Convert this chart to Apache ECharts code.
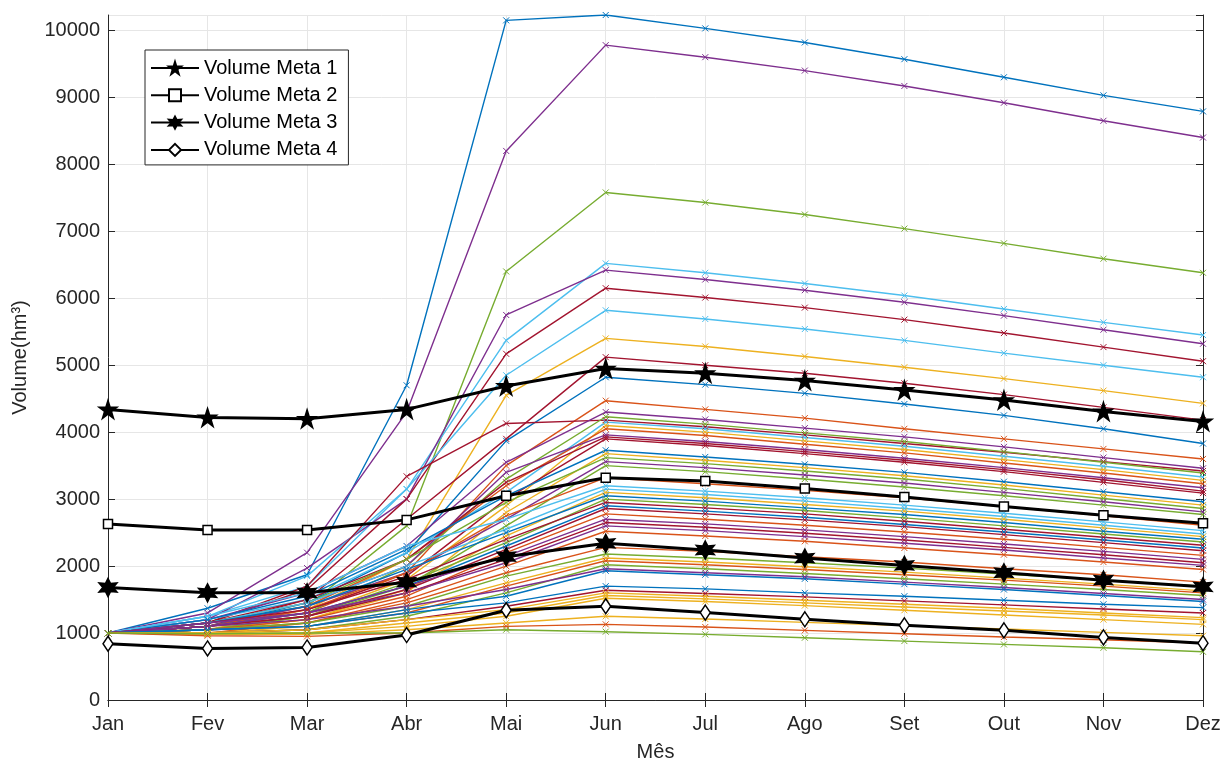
<!DOCTYPE html>
<html>
<head>
<meta charset="utf-8">
<script src="https://cdn.jsdelivr.net/npm/echarts@6/dist/echarts.min.js"></script>
<style>
html,body{margin:0;padding:0;background:#fff;}
#chart{width:1225px;height:762px;}
</style>
</head>
<body>
<div id="chart"></div>
<script>
const months = ['Jan','Fev','Mar','Abr','Mai','Jun','Jul','Ago','Set','Out','Nov','Dez'];
const yTicks = [0,1000,2000,3000,4000,5000,6000,7000,8000,9000,10000];

// Meta lines
const meta1 = [4340,4220,4200,4340,4690,4950,4880,4770,4630,4480,4310,4160];
const meta2 = [2630,2540,2540,2690,3050,3320,3270,3160,3030,2890,2760,2640];
const meta3 = [1680,1600,1600,1760,2140,2340,2240,2120,2010,1900,1790,1690];
const meta4 = [840,770,785,970,1340,1400,1305,1205,1115,1040,935,848];

// Simulated scenario colours (MATLAB default order)
const scenColors = ['B','P','G','C','P','R','C','Y','R','B','O','R','P','G','C','Y','O','P','R','R','B','Y','G','P','G','O','C','C','Y','B','G','R','B','R','O','P','R','P','O','O','G','Y','O','G','P','B','B','R','Y','Y','Y','Y','O','G'];

// Simulated scenario values
const s01 = [1000,1370,1870,4700,10150,10230,10030,9820,9570,9300,9030,8790];
const s02 = [1000,1300,2200,4300,8200,9780,9600,9400,9170,8920,8650,8400];
const s03 = [1000,1150,1400,2600,6400,7580,7430,7250,7040,6820,6590,6380];
const s04 = [1000,1250,1700,3150,5370,6520,6380,6220,6040,5840,5640,5450];
const s05 = [1000,1200,1970,3000,5750,6420,6280,6120,5940,5740,5530,5320];
const s06 = [1000,1150,1650,3000,5170,6150,6010,5860,5680,5480,5270,5060];
const s07 = [1000,1250,1850,3150,4850,5820,5690,5540,5370,5180,5000,4820];
const s08 = [1000,1050,1350,2100,4550,5400,5280,5130,4970,4800,4620,4430];
const s09 = [1000,1100,1500,2700,3900,5120,5000,4880,4730,4560,4370,4180];
const s10 = [1000,1100,1450,2200,3870,4820,4710,4580,4420,4250,4050,3830];
const s11 = [1000,1100,1300,1900,3500,4470,4340,4210,4050,3900,3750,3600];
const s12 = [1000,1150,1700,3340,4130,4180,4080,3960,3830,3700,3560,3420];
const s13 = [1000,1200,1600,2300,3550,4300,4190,4060,3930,3780,3620,3460];
const s14 = [1000,1100,1300,2000,3300,4230,4120,3990,3860,3710,3550,3390];
const s15 = [1000,1200,1500,2200,3100,4150,4050,3920,3790,3640,3490,3330];
const s16 = [1000,1050,1250,1800,2900,4100,4000,3870,3740,3590,3440,3280];
const s17 = [1000,1100,1400,2100,3200,4050,3950,3820,3690,3540,3390,3230];
const s18 = [1000,1150,1450,2000,3400,3960,3860,3740,3610,3470,3320,3170];
const s19 = [1000,1150,1500,2100,3250,3930,3830,3710,3580,3440,3290,3120];
const s20 = [1000,1100,1350,1850,3000,3900,3800,3680,3550,3410,3250,3090];
const s21 = [1000,1200,1550,2250,3050,3730,3630,3520,3400,3260,3110,2960];
const s22 = [1000,1050,1200,1600,2800,3680,3580,3470,3350,3210,3060,2910];
const s23 = [1000,1150,1450,2100,2950,3620,3530,3420,3300,3160,3010,2860];
const s24 = [1000,1100,1400,1900,2700,3560,3470,3360,3240,3100,2960,2810];
const s25 = [1000,1050,1250,1700,2600,3500,3410,3300,3180,3050,2910,2770];
const s26 = [1000,1100,1350,1900,2750,3320,3230,3130,3020,2890,2750,2610];
const s27 = [1000,1250,1600,2300,2700,3200,3120,3020,2910,2790,2660,2530];
const s28 = [1000,1150,1450,2000,2550,3150,3070,2970,2860,2740,2610,2480];
const s29 = [1000,1050,1200,1650,2450,3100,3020,2920,2820,2700,2570,2440];
const s30 = [1000,1150,1400,1950,2500,3050,2970,2870,2770,2650,2520,2400];
const s31 = [1000,1050,1250,1750,2350,3000,2920,2830,2720,2600,2480,2360];
const s32 = [1000,1150,1350,1800,2400,2950,2870,2780,2670,2550,2430,2310];
const s33 = [1000,1100,1300,1700,2300,2900,2820,2730,2620,2510,2390,2270];
const s34 = [1000,1100,1250,1650,2250,2860,2780,2690,2590,2470,2350,2230];
const s35 = [1000,1050,1200,1550,2200,2780,2700,2610,2510,2400,2280,2160];
const s36 = [1000,1150,1300,1700,2150,2700,2630,2540,2440,2330,2220,2100];
const s37 = [1000,1100,1250,1600,2100,2650,2580,2490,2390,2280,2170,2050];
const s38 = [1000,1100,1300,1600,2050,2600,2530,2440,2340,2240,2120,2010];
const s39 = [1000,1000,1150,1500,2000,2520,2450,2370,2270,2170,2060,1950];
const s40 = [1000,1050,1150,1450,1900,2280,2220,2140,2060,1960,1870,1760];
const s41 = [1000,1050,1150,1400,1850,2180,2120,2050,1970,1880,1790,1700];
const s42 = [1000,1000,1100,1350,1750,2120,2060,1990,1910,1820,1730,1630];
const s43 = [1000,1050,1100,1300,1700,2080,2020,1950,1870,1790,1700,1600];
const s44 = [1000,1000,1050,1250,1600,2020,1960,1890,1810,1730,1650,1560];
const s45 = [1000,1100,1200,1400,1650,1960,1900,1840,1760,1680,1590,1500];
const s46 = [1000,1050,1100,1350,1550,1930,1870,1810,1730,1650,1560,1470];
const s47 = [1000,1050,1100,1300,1450,1700,1660,1600,1550,1490,1430,1380];
const s48 = [1000,1000,1050,1200,1400,1640,1590,1540,1480,1420,1360,1300];
const s49 = [1000,1000,1050,1200,1350,1600,1550,1490,1430,1370,1300,1230];
const s50 = [1000,1000,1000,1150,1300,1560,1510,1450,1390,1330,1270,1200];
const s51 = [1000,980,1000,1100,1250,1520,1470,1410,1340,1270,1200,1130];
const s52 = [1000,980,980,1050,1150,1250,1210,1160,1110,1060,1010,960];
const s53 = [1000,960,950,1000,1100,1130,1090,1040,990,940,900,850];
const s54 = [1000,990,1000,1000,1050,1020,980,930,880,830,780,720];

const scenarios = [s01,s02,s03,s04,s05,s06,s07,s08,s09,s10,s11,s12,s13,s14,s15,s16,s17,s18,s19,s20,s21,s22,s23,s24,s25,s26,s27,s28,s29,s30,s31,s32,s33,s34,s35,s36,s37,s38,s39,s40,s41,s42,s43,s44,s45,s46,s47,s48,s49,s50,s51,s52,s53,s54];

const palette = {B:'#0072BD',O:'#D95319',Y:'#EDB120',P:'#7E2F8E',G:'#77AC30',C:'#4DBEEE',R:'#A2142F'};
const axisColor = '#262626';
const font = 'Liberation Sans, Arial, Helvetica, sans-serif';

const series = [];
scenarios.forEach((d,i)=>{
  const c = palette[scenColors[i]];
  series.push({
    type:'line', name:'s'+(i+1), data:d, z:2,
    symbol:'path://M0,0L10,10M10,0L0,10', symbolSize:6, showAllSymbol:true,
    lineStyle:{color:c,width:1.4},
    itemStyle:{color:c,borderColor:c,borderWidth:1},
    emphasis:{disabled:true}, silent:true
  });
});
const star = 'path://M50,0 L61.2,34.5 97.6,34.5 68.2,55.9 79.4,90.5 50,69.1 20.6,90.5 31.8,55.9 2.4,34.5 38.8,34.5 Z';
const hexa = 'path://M50,0 L62.5,28.3 93.3,25 75,50 93.3,75 62.5,71.7 50,100 37.5,71.7 6.7,75 25,50 6.7,25 37.5,28.3 Z';
const metas = [
  {name:'Volume Meta 1', data:meta1, symbol:star, size:18, fill:'#000'},
  {name:'Volume Meta 2', data:meta2, symbol:'rect', size:9, fill:'#fff'},
  {name:'Volume Meta 3', data:meta3, symbol:hexa, size:18, fill:'#000'},
  {name:'Volume Meta 4', data:meta4, symbol:'diamond', size:[10,15], fill:'#fff'}
];
metas.forEach(m=>{
  series.push({
    type:'line', name:m.name, data:m.data, z:5,
    symbol:m.symbol, symbolSize:m.size, showAllSymbol:true,
    lineStyle:{color:'#000',width:3},
    itemStyle:{color:m.fill,borderColor:'#000',borderWidth:1.5},
    emphasis:{disabled:true}
  });
});

const chart = echarts.init(document.getElementById('chart'), null, {renderer:'canvas'});
chart.setOption({
  animation:false,
  backgroundColor:'#fff',
  textStyle:{fontFamily:font},
  grid:{left:108,right:22,top:15,bottom:62,show:false,containLabel:false,outerBoundsMode:'none'},
  legend:{
    data:metas.map(m=>m.name),
    orient:'vertical', left:145, top:50,
    padding:[8,11,5,5], itemGap:7.3, itemWidth:48, itemHeight:15,
    backgroundColor:'#fff', borderColor:axisColor, borderWidth:1, borderRadius:0,
    textStyle:{fontSize:20,lineHeight:20,color:'#000',fontFamily:font},
    selectedMode:false
  },
  xAxis:[{
    type:'category', data:months, boundaryGap:false, position:'bottom',
    axisLine:{show:true,lineStyle:{color:axisColor,width:1}},
    axisTick:{show:true,inside:true,length:7,lineStyle:{color:axisColor}},
    axisLabel:{fontSize:20,color:axisColor,margin:14,fontFamily:font},
    splitLine:{show:true,lineStyle:{color:'#e6e6e6',width:1}},
    name:'Mês', nameLocation:'middle', nameGap:42,
    nameTextStyle:{fontSize:20,color:axisColor,fontFamily:font}
  },{
    type:'category', data:months, boundaryGap:false, position:'top',
    axisLine:{show:true,lineStyle:{color:axisColor,width:1}},
    axisTick:{show:true,inside:true,length:7,lineStyle:{color:axisColor}},
    axisLabel:{show:false}, splitLine:{show:false}
  }],
  yAxis:[{
    type:'value', min:0, max:10230, interval:1000, position:'left',
    axisLine:{show:true,lineStyle:{color:axisColor,width:1}},
    axisTick:{show:true,inside:true,length:7,lineStyle:{color:axisColor}},
    axisLabel:{fontSize:20,color:axisColor,margin:8,showMaxLabel:false,fontFamily:font,
      formatter:v=> yTicks.indexOf(v)>=0 ? String(v) : ''},
    splitLine:{show:true,lineStyle:{color:'#e6e6e6',width:1}},
    name:'Volume(hm³)', nameLocation:'middle', nameGap:78, nameRotate:90,
    nameTextStyle:{fontSize:20,color:axisColor,fontFamily:font}
  },{
    type:'value', min:0, max:10230, interval:1000, position:'right',
    axisLine:{show:true,lineStyle:{color:axisColor,width:1}},
    axisTick:{show:true,inside:true,length:7,lineStyle:{color:axisColor}},
    axisLabel:{show:false}, splitLine:{show:false}
  }],
  series:series
});
</script>
</body>
</html>
